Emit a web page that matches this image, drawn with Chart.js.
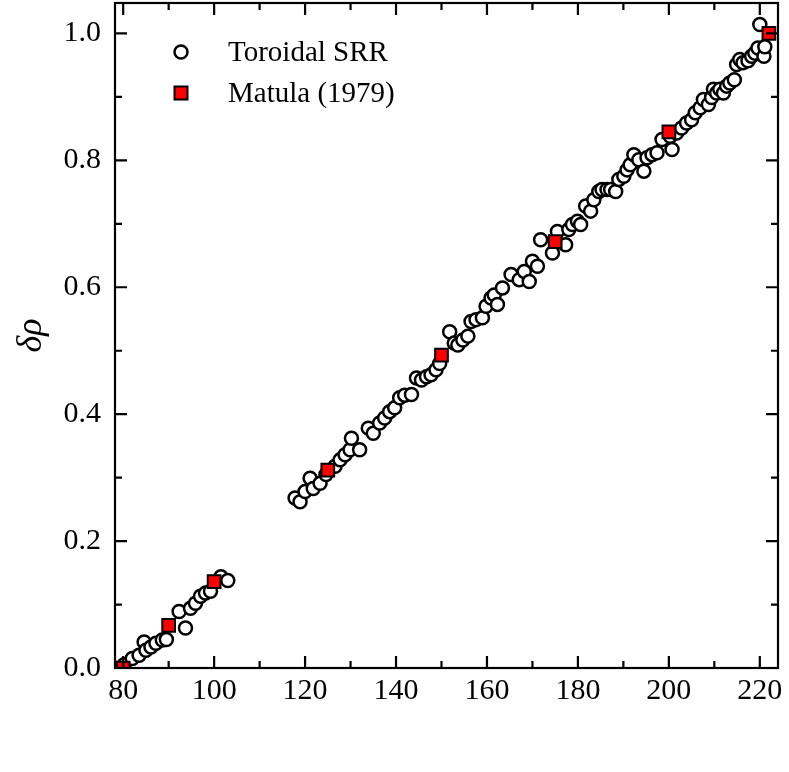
<!DOCTYPE html>
<html>
<head>
<meta charset="utf-8">
<script src="https://cdn.jsdelivr.net/npm/chart.js@4.4.0/dist/chart.umd.min.js"></script>
<style>
  body { margin: 0; background: #fff; }
  #wrap { width: 789px; height: 772px; }
</style>
</head>
<body>
<div id="wrap"><canvas id="chart"></canvas></div>
<script>
// Toroidal SRR points
const torX = [80.2, 82.0, 83.5, 84.6, 85.0, 86.1, 87.2, 88.6, 89.5, 92.3, 93.7, 94.8, 95.9, 97.0, 98.1, 99.2, 101.5, 103.0,
  117.8, 118.9, 120.0, 121.1, 121.8, 123.3, 124.6, 126.6, 127.7, 128.8, 129.9, 130.2, 132.0, 133.9, 135.0, 136.4, 137.5,
  138.6, 139.7, 140.8, 141.9, 143.4, 144.5, 145.6, 146.7, 147.7, 148.8, 149.6, 151.8, 152.8, 153.6, 154.7, 155.8, 156.5,
  157.6, 159.0, 159.8, 160.9, 161.6, 162.3, 163.4, 165.3, 167.1, 168.2, 169.3, 170.0, 171.1, 171.8, 174.4, 175.5, 177.3,
  178.0, 178.8, 179.9, 180.6, 181.7, 182.8, 183.5, 184.6, 185.3, 186.4, 187.2, 188.3, 189.0, 190.1, 190.8, 191.5, 192.3,
  193.4, 194.5, 195.2, 196.3, 197.4, 198.5, 200.3, 200.7, 201.7, 202.8, 203.9, 205.0, 205.8, 206.9, 207.6, 208.7, 209.4,
  209.8, 210.5, 211.2, 212.0, 212.7, 213.4, 214.4, 214.9, 215.6, 216.3, 217.4, 218.2, 218.9, 219.6, 220.0, 220.9, 221.1];
const torY = [0.005, 0.015, 0.020, 0.041, 0.028, 0.033, 0.039, 0.044, 0.045, 0.089, 0.063, 0.094, 0.102, 0.113, 0.118, 0.121, 0.144, 0.138,
  0.268, 0.262, 0.278, 0.299, 0.283, 0.291, 0.305, 0.318, 0.328, 0.336, 0.344, 0.362, 0.344, 0.378, 0.370, 0.386, 0.394,
  0.404, 0.410, 0.426, 0.430, 0.431, 0.457, 0.454, 0.459, 0.462, 0.470, 0.480, 0.530, 0.512, 0.509, 0.517, 0.523, 0.546,
  0.549, 0.552, 0.570, 0.583, 0.588, 0.573, 0.599, 0.620, 0.612, 0.625, 0.609, 0.641, 0.633, 0.675, 0.654, 0.688, 0.667,
  0.691, 0.699, 0.704, 0.699, 0.728, 0.720, 0.738, 0.751, 0.754, 0.754, 0.754, 0.751, 0.770, 0.775, 0.785, 0.793, 0.809,
  0.801, 0.783, 0.804, 0.809, 0.812, 0.833, 0.838, 0.817, 0.843, 0.851, 0.859, 0.864, 0.875, 0.883, 0.896, 0.888, 0.899,
  0.912, 0.906, 0.912, 0.906, 0.917, 0.922, 0.927, 0.951, 0.959, 0.954, 0.957, 0.964, 0.969, 0.977, 1.014, 0.964, 0.979];

// Matula (1979)
const matX = [80, 90, 100, 125, 150, 175, 200, 222];
const matY = [0, 0.067, 0.136, 0.312, 0.493, 0.672, 0.845, 1.0];

const xTicks = [80, 100, 120, 140, 160, 180, 200, 220];
const yTicks = [0.0, 0.2, 0.4, 0.6, 0.8, 1.0];
const seriesNames = ["Toroidal SRR", "Matula (1979)"];

const serif = "'Liberation Serif', 'DejaVu Serif', serif";

// frame on all four sides with inward ticks, plus the legend inside the plot
const framePlugin = {
  id: 'frame',
  afterDraw(chart) {
    const ctx = chart.ctx;
    const a = chart.chartArea;
    const xs = chart.scales.x, ys = chart.scales.y;
    ctx.save();
    ctx.strokeStyle = '#000';
    ctx.lineWidth = 2.2;
    ctx.strokeRect(a.left, a.top, a.right - a.left, a.bottom - a.top);
    ctx.beginPath();
    for (let v = 80; v <= 220; v += 10) {
      const px = xs.getPixelForValue(v);
      const len = v % 20 === 0 ? 12 : 7;
      ctx.moveTo(px, a.bottom); ctx.lineTo(px, a.bottom - len);
      ctx.moveTo(px, a.top); ctx.lineTo(px, a.top + len);
    }
    for (let i = 0; i <= 10; i++) {
      const py = ys.getPixelForValue(i / 10);
      const len = i % 2 === 0 ? 12 : 7;
      ctx.moveTo(a.left, py); ctx.lineTo(a.left + len, py);
      ctx.moveTo(a.right, py); ctx.lineTo(a.right - len, py);
    }
    ctx.stroke();

    // legend
    const lx = 181, ly1 = 52, ly2 = 93;
    ctx.lineWidth = 2.5;
    ctx.beginPath();
    ctx.arc(lx, ly1, 6.5, 0, Math.PI * 2);
    ctx.fillStyle = '#fff';
    ctx.fill();
    ctx.stroke();
    ctx.lineWidth = 2;
    ctx.fillStyle = '#ff0000';
    ctx.fillRect(lx - 6.5, ly2 - 6.5, 13, 13);
    ctx.strokeRect(lx - 6.5, ly2 - 6.5, 13, 13);
    ctx.fillStyle = '#000';
    ctx.font = '29px ' + serif;
    ctx.textBaseline = 'middle';
    ctx.fillText(seriesNames[0], 228, ly1 + 1);
    ctx.fillText(seriesNames[1], 228, ly2 + 1);
    ctx.restore();
  }
};

new Chart(document.getElementById('chart'), {
  type: 'scatter',
  data: {
    datasets: [
      {
        label: seriesNames[0],
        data: torX.map((x, i) => ({ x: x, y: torY[i] })),
        pointStyle: 'circle',
        pointRadius: 6.5,
        pointBackgroundColor: '#ffffff',
        pointBorderColor: '#000000',
        pointBorderWidth: 2.5,
        order: 1
      },
      {
        label: seriesNames[1],
        data: matX.map((x, i) => ({ x: x, y: matY[i] })),
        pointStyle: 'rect',
        pointRadius: 9,
        pointBackgroundColor: '#ff0000',
        pointBorderColor: '#000000',
        pointBorderWidth: 2,
        order: 0
      }
    ]
  },
  options: {
    responsive: true,
    maintainAspectRatio: false,
    animation: false,
    layout: { autoPadding: false, padding: { left: 0, right: 11, top: 3, bottom: 0 } },
    plugins: {
      legend: { display: false },
      tooltip: { enabled: false }
    },
    scales: {
      x: {
        type: 'linear',
        min: 78.2,
        max: 224,
        grid: { display: false, drawTicks: false },
        border: { display: false },
        afterFit: (s) => { s.height = 104; s.paddingLeft = 0; s.paddingRight = 0; },
        afterBuildTicks: (s) => { s.ticks = xTicks.map(v => ({ value: v })); },
        ticks: {
          padding: 5,
          color: '#000',
          font: { family: serif, size: 30 },
          maxRotation: 0
        }
      },
      y: {
        type: 'linear',
        min: 0,
        max: 1.048,
        grid: { display: false, drawTicks: false },
        border: { display: false },
        afterFit: (s) => { s.width = 115; s.paddingTop = 0; s.paddingBottom = 0; },
        afterBuildTicks: (s) => { s.ticks = yTicks.map(v => ({ value: v })); },
        title: {
          display: true,
          text: 'δρ',
          color: '#000',
          font: { family: serif, size: 36, style: 'italic' },
          padding: { top: 10, bottom: 0 }
        },
        ticks: {
          padding: 14,
          color: '#000',
          font: { family: serif, size: 30 },
          callback: (v) => v.toFixed(1)
        }
      }
    }
  },
  plugins: [framePlugin]
});
</script>
</body>
</html>
